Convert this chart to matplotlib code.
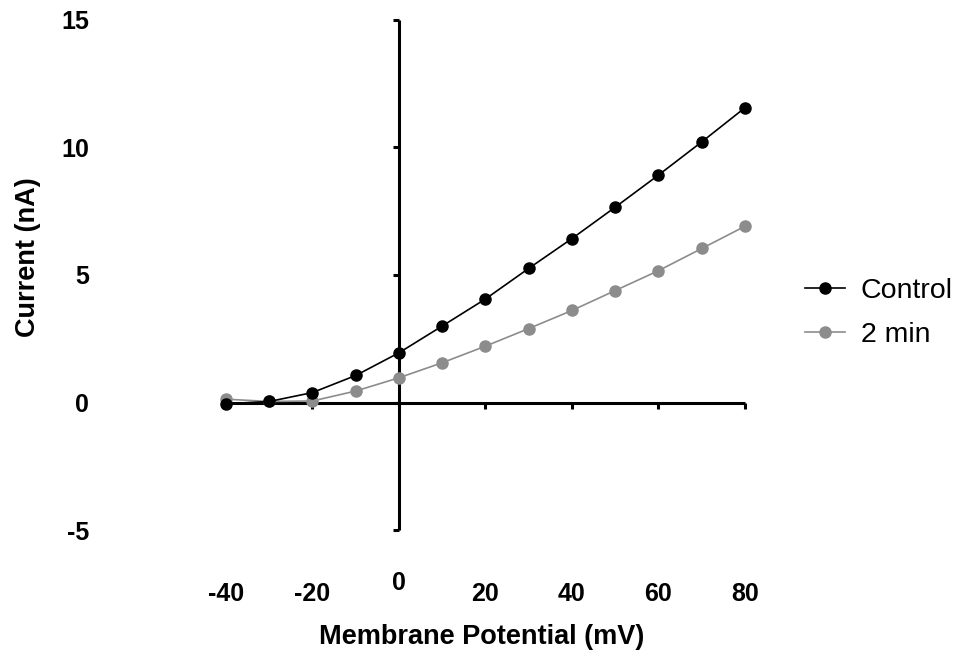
import matplotlib
matplotlib.use("Agg")
import matplotlib.pyplot as plt
from matplotlib.transforms import ScaledTranslation

plt.rcParams["font.family"] = ["Liberation Sans", "DejaVu Sans"]

# membrane potential (mV)
voltage = [-40, -30, -20, -10, 0, 10, 20, 30, 40, 50, 60, 70, 80]
# current (nA)
control = [-0.05, 0.04, 0.39, 1.06, 1.95, 3.00, 4.06, 5.26, 6.43, 7.66, 8.92, 10.22, 11.56]
two_min = [0.13, 0.04, 0.06, 0.45, 0.97, 1.56, 2.21, 2.90, 3.61, 4.39, 5.17, 6.04, 6.91]

x_ticks = [-40, -20, 0, 20, 40, 60, 80]
y_ticks = [-5, 0, 5, 10, 15]

DPI = 100
fig = plt.figure(figsize=(9.62, 6.63), dpi=DPI)
ax = fig.add_axes([226 / 962, 133 / 663, 519 / 962, 510 / 663])

ax.plot(voltage, control, color="black", lw=1.2, marker="o", ms=8,
        clip_on=False, zorder=4, label="Control")
ax.plot(voltage, two_min, color="#8c8c8c", lw=1.2, marker="o", ms=8,
        clip_on=False, zorder=3, label="2 min")

ax.set_xlim(-40, 80)
ax.set_ylim(-5, 15)

# axes cross at the origin
for side in ("top", "right"):
    ax.spines[side].set_visible(False)
ax.spines["left"].set_position(("data", 0))
ax.spines["bottom"].set_position(("data", 0))
for side in ("left", "bottom"):
    ax.spines[side].set_linewidth(2.2)
    ax.spines[side].set_capstyle("butt")

ax.set_xticks(x_ticks)
ax.set_xticklabels([str(v) for v in x_ticks])
ax.set_yticks(y_ticks)
ax.set_yticklabels([str(v) for v in y_ticks])

# tick labels sit at the outer edge of the plot, far from the crossing axes
ax.tick_params(axis="x", direction="out", length=4, width=2.2, pad=125,
               labelsize=18)
ax.tick_params(axis="y", direction="out", length=4, width=2.2, pad=219,
               labelsize=18)
for lab in ax.get_xticklabels() + ax.get_yticklabels():
    lab.set_fontweight("bold")

# the "0" label on the x axis sits a little higher
for lab in ax.get_xticklabels():
    if lab.get_text() == "0":
        lab.set_transform(lab.get_transform()
                          + ScaledTranslation(0, 11 / DPI, fig.dpi_scale_trans))

fig.text(482 / 962, 1 - 637 / 663, "Membrane Potential (mV)", ha="center",
         va="center", fontsize=19.5, fontweight="bold")
fig.text(28 / 962, 1 - 257 / 663, "Current (nA)", ha="center", va="center",
         rotation=90, fontsize=19.5, fontweight="bold")

fig.legend(loc="center left", bbox_to_anchor=(805 / 962, 1 - 313 / 663),
           frameon=False, fontsize=20.5, handlelength=1.4, handletextpad=0.55,
           labelspacing=0.65, borderpad=0, borderaxespad=0)

fig.savefig("out.png", dpi=DPI, facecolor="white")
